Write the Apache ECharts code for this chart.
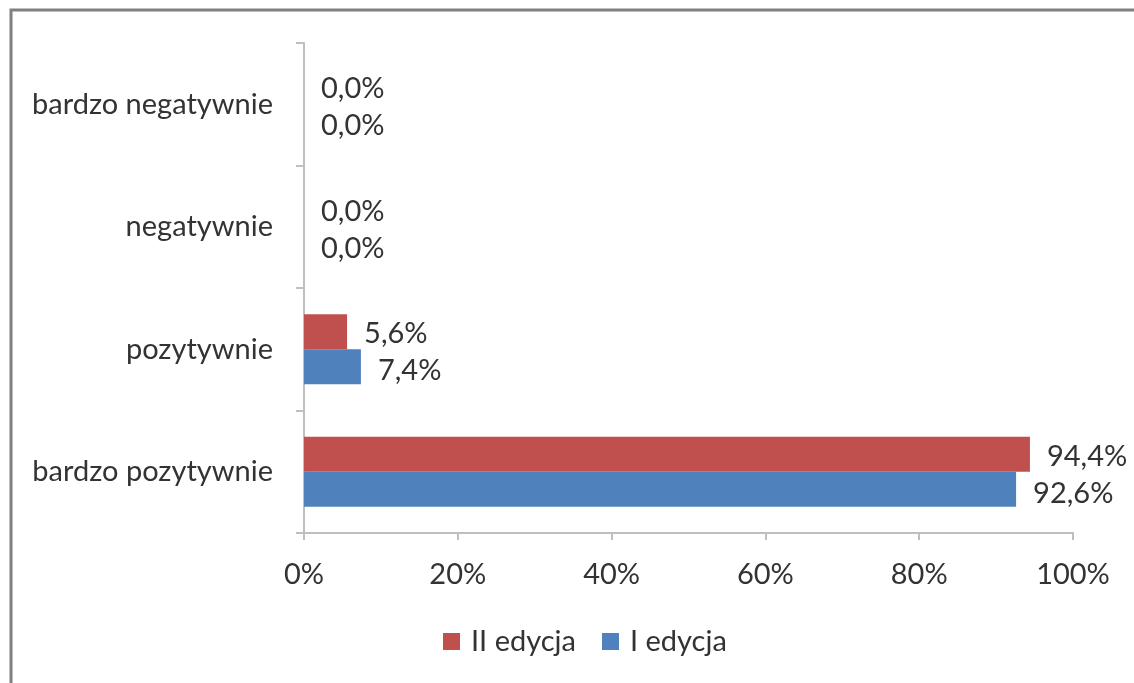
<!DOCTYPE html>
<html>
<head>
<meta charset="utf-8">
<style>
    html, body { margin: 0; padding: 0; background: #fff; }
    #chart { width: 1134px; height: 683px; }
</style>
<script src="https://cdn.jsdelivr.net/npm/echarts@6/dist/echarts.min.js"></script>
</head>
<body>
<div id="chart"></div>
<script>
// categories from bottom to top
var categories = ['bardzo pozytywnie', 'pozytywnie', 'negatywnie', 'bardzo negatywnie'];
var edycja2 = [94.4, 5.6, 0, 0];
var edycja1 = [92.6, 7.4, 0, 0];
var xTicks = [0, 20, 40, 60, 80, 100];

var font = 'Lato, "Open Sans", sans-serif';
var textColor = '#333333';
var axisColor = '#bfbfbf';
var fs = 29;

function pct(v) {
    return v.toFixed(1).replace('.', ',') + '%';
}

var chart = echarts.init(document.getElementById('chart'));
chart.setOption({
    backgroundColor: '#fff',
    animation: false,
    textStyle: { fontFamily: font },
    graphic: [{
        type: 'polyline',
        shape: { points: [[11, 683], [11, 10], [1134, 10]] },
        style: { stroke: '#808080', lineWidth: 3, fill: null }
    }],
    grid: {
        left: 304,
        right: 61,
        top: 43,
        bottom: 150
    },
    legend: {
        bottom: 22,
        left: 438,
        data: ['II edycja', 'I edycja'],
        icon: 'rect',
        itemWidth: 17,
        itemHeight: 17,
        itemGap: 26,
        textStyle: { fontSize: fs, color: textColor, fontFamily: font, padding: [0, 0, 0, 6] }
    },
    xAxis: {
        type: 'value',
        min: 0,
        max: 100,
        interval: 20,
        axisLine: { show: true, lineStyle: { color: axisColor, width: 2 } },
        axisTick: { show: true, length: 7, lineStyle: { color: axisColor, width: 2 } },
        splitLine: { show: false },
        axisLabel: {
            formatter: function (v) {
                return xTicks.indexOf(v) >= 0 ? v + '%' : '';
            },
            fontSize: fs,
            color: textColor,
            margin: 27
        }
    },
    yAxis: {
        type: 'category',
        data: categories,
        axisLine: { show: true, lineStyle: { color: axisColor, width: 2 } },
        axisTick: { show: true, length: 8, lineStyle: { color: axisColor, width: 2 } },
        axisLabel: { fontSize: fs, color: textColor, margin: 31 }
    },
    series: [{
        name: 'II edycja',
        type: 'bar',
        data: edycja2,
        barWidth: 35,
        barGap: '0%',
        itemStyle: { color: '#c0504d' },
        label: {
            show: true,
            position: 'right',
            distance: 17,
            offset: [0, 2],
            fontSize: fs,
            color: textColor,
            formatter: function (p) { return pct(p.value); }
        }
    }, {
        name: 'I edycja',
        type: 'bar',
        data: edycja1,
        barWidth: 35,
        barGap: '0%',
        itemStyle: { color: '#4f81bd' },
        label: {
            show: true,
            position: 'right',
            distance: 17,
            offset: [0, 4],
            fontSize: fs,
            color: textColor,
            formatter: function (p) { return pct(p.value); }
        }
    }]
});
</script>
</body>
</html>
